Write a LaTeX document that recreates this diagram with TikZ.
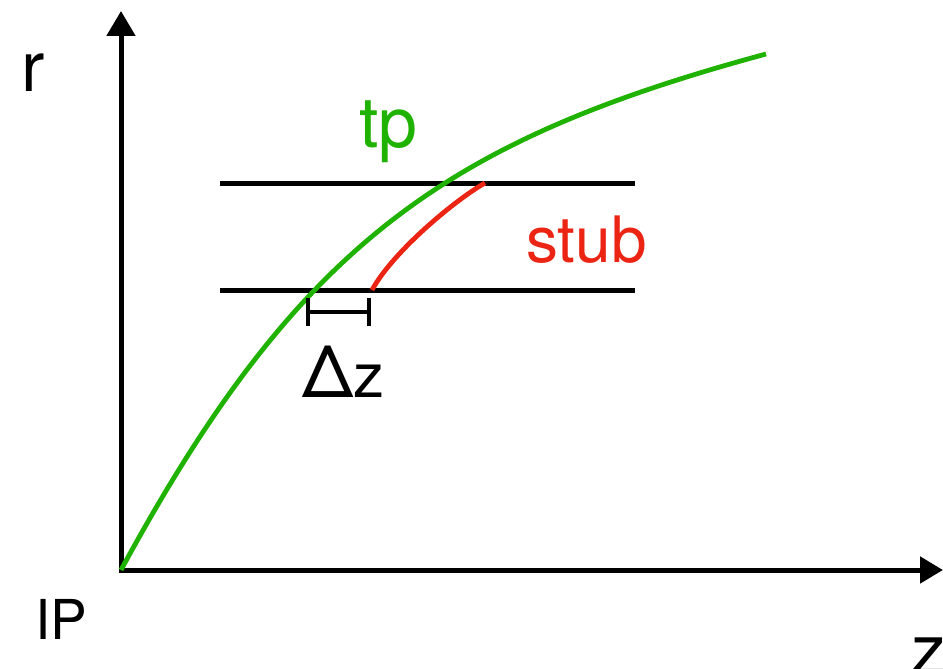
\documentclass[tikz,border=0pt]{standalone}
\usepackage{fontspec}
\setmainfont{TeX Gyre Heros}
\usetikzlibrary{arrows.meta}
\definecolor{tpgreen}{RGB}{32,178,0}
\definecolor{stubred}{RGB}{236,36,20}
\begin{document}
\begin{tikzpicture}[x=1pt,y=-1pt,
  axis/.style={line width=5pt,-{Triangle[length=25pt,width=28pt]}},
  bar/.style={line width=5pt},
  lbl/.style={anchor=base west,inner sep=0pt,outer sep=0pt},
  fs/.style={font=\fontsize{#1}{#1}\selectfont}]
\useasboundingbox (0,0) rectangle (943,669);
% coordinates
\coordinate (O) at (121,570);
\coordinate (ytop) at (121,11);
\coordinate (xend) at (943,570);
\coordinate (L1a) at (220,183);
\coordinate (L1b) at (635,183);
\coordinate (L2a) at (220,290);
\coordinate (L2b) at (635,290);
\coordinate (tpend) at (766,54);
\coordinate (sA) at (372,290);
\coordinate (sB) at (485,183);
\coordinate (dzL) at (308,312);
\coordinate (dzR) at (369,312);
% axes
\draw[axis] (121,572.5) -- (ytop);
\draw[line width=5pt,-{Triangle[length=23pt,width=26pt]}] (118.5,570) -- (xend);
% horizontal layers
\draw[bar] (L1a) -- (L1b);
\draw[bar] (L2a) -- (L2b);
% trajectory
\draw[tpgreen,line width=4.8pt] (O) .. controls (300,240) and (449,140) .. (tpend);
% stub
\draw[stubred,line width=4.8pt] (sA) .. controls (394,250) and (458,198) .. (sB);
% delta z bracket
\draw[line width=4pt] (dzL) -- (dzR);
\draw[line width=4pt] ([yshift=-14pt]dzL) -- ([yshift=14pt]dzL);
\draw[line width=4pt] ([yshift=-14pt]dzR) -- ([yshift=14pt]dzR);
% labels
\node[lbl,fs=70] (r) at (21,92) {r};
\node[lbl,fs=70,text=tpgreen] (tp) at (359,147) {tp};
\node[lbl,fs=64,text=stubred] (stub) at (526,262) {stub};
\node[lbl,fs=62] (dz) at (302,397) {{\fontsize{72}{72}\selectfont Δ}z};
\node[lbl,fs=55] (IP) at (35,639) {IP};
\node[lbl,fs=70] (z) at (911,674) {z};
\end{tikzpicture}
\end{document}
